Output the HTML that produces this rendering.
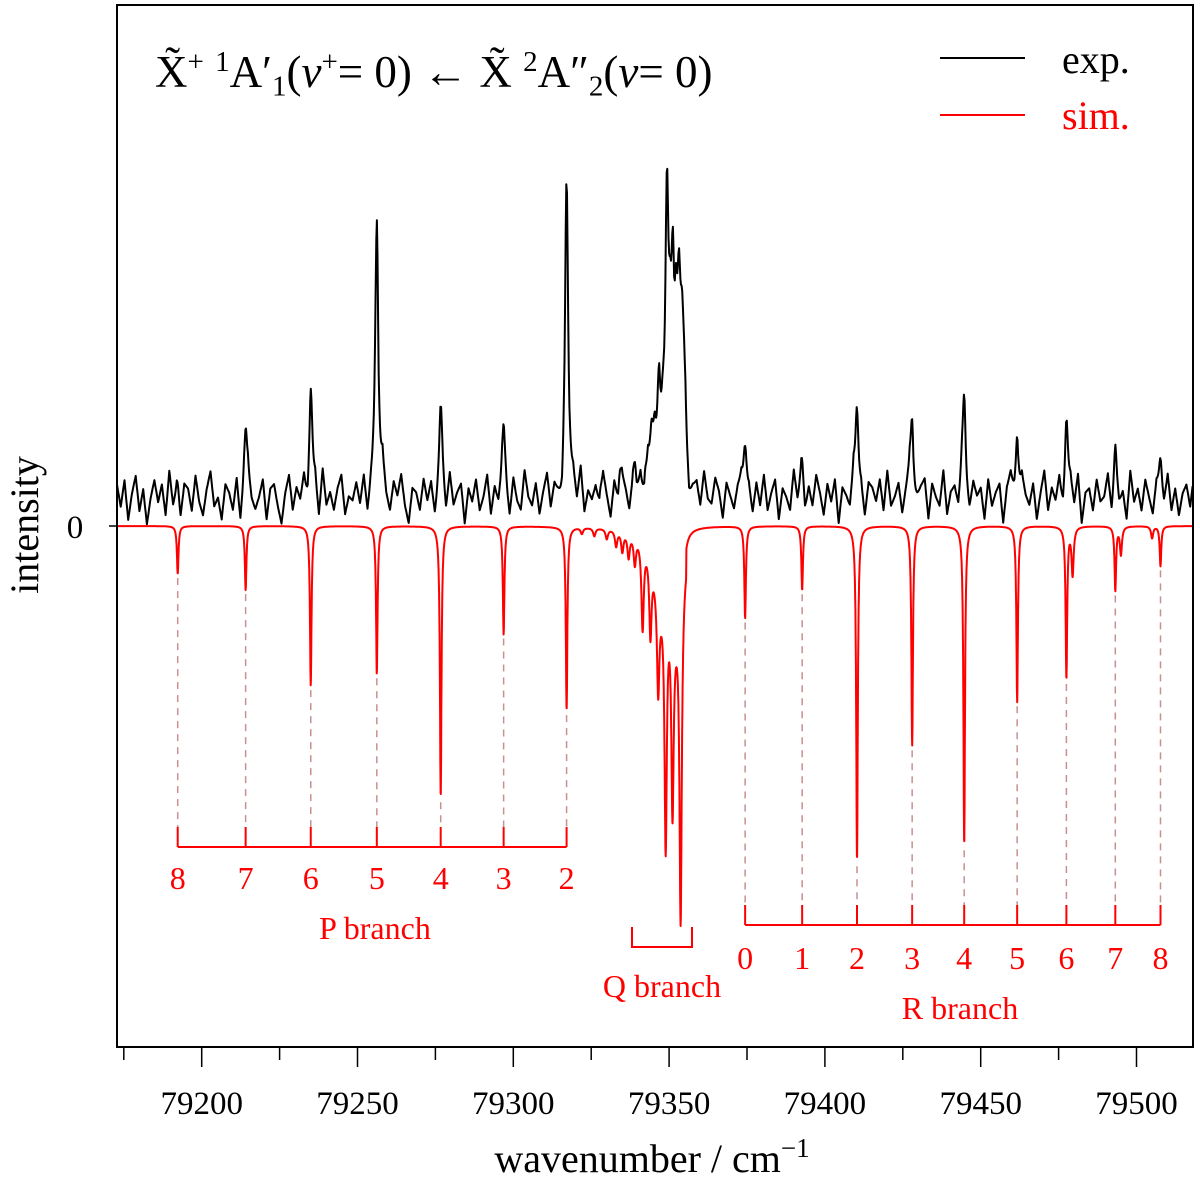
<!DOCTYPE html>
<html><head><meta charset="utf-8">
<style>
html,body{margin:0;padding:0;background:#fff;}
#wrap{position:relative;width:1200px;height:1189px;overflow:hidden;font-family:"Liberation Serif",serif;}
#title{position:absolute;left:155px;top:50px;font-size:45px;white-space:nowrap;color:#000;line-height:1;}
#title sup{font-size:29px;vertical-align:0.55em;line-height:0}
#title sub{font-size:29px;vertical-align:-0.3em;line-height:0}
</style></head>
<body>
<div id="wrap">
<svg id="svg" width="1200" height="1189" viewBox="0 0 1200 1189" xmlns="http://www.w3.org/2000/svg"></svg>
<div id="title">X̃<sup>+</sup> <sup>1</sup>A′<sub>1</sub>(<i>v</i><sup>+</sup>= 0) ← X̃ <sup>2</sup>A″<sub>2</sub>(<i>v</i>= 0)</div>
</div>
<script>
// ---- data ----
const xTicks = [79200,79250,79300,79350,79400,79450,79500];
const xMinor = [79175,79225,79275,79325,79375,79425,79475,79525];
const pLabels = [8,7,6,5,4,3,2];
const pPos = [79192.3,79214.1,79235.0,79256.2,79276.7,79296.9,79317.1];
const pDepth = [0.12,0.16,0.40,0.37,0.68,0.27,0.46];
const rLabels = [0,1,2,3,4,5,6,7,8];
const rPos = [79374.4,79392.7,79410.3,79428.0,79444.7,79461.7,79477.5,79493.2,79507.7];
const rDepth = [0.23,0.16,0.84,0.55,0.80,0.44,0.38,0.16,0.10];
const rShoulderPos = [79479.5,79495.0,79505.0];
const rShoulderDepth = [0.12,0.07,0.03];
const qPos = [79322,79326,79330,79333,79335,79337,79339,79341.5,79344,79346.5,79348.9,79351.1,79353.7];
const qDepth = [0.015,0.02,0.025,0.04,0.05,0.06,0.07,0.22,0.2,0.25,0.64,0.5,0.84];
const qEnvPos = [79347,79352];
const qEnvDepth = [0.12,0.18];
// experimental peaks
const ePos = [79192.3,79214.1,79235.0,79256.2,79276.7,79296.9,79317.1,79327.8,79334.2,79339,79342.2,79344.4,79345.4,79346.7,79348,79349.3,79350.3,79351.2,79352.2,79353.2,79354.1,79354.8,79374.4,79392.7,79410.3,79428.0,79444.7,79461.7,79477.5,79493.2,79507.7];
const eHeight = [0.04,0.14,0.28,0.70,0.22,0.16,0.76,0.03,0.05,0.07,0.08,0.12,0.13,0.18,0.15,0.66,0.2,0.45,0.3,0.35,0.3,0.15,0.15,0.08,0.24,0.2,0.24,0.18,0.2,0.1,0.09];
const noise = [3,-2,4,-5,1,5,-3,2,-6,0,4,-1,3,-4,6,-2,1,-5,3,2,-3,5,-1,-4,2,6,-2,0,-5,3,1,-3,4,-6,2,5,-1,-3,0,4,-5,2,3,-2,-6,1,5,-3,2,-1,4,-4,0,3,-5,6,-2,1,-3,2,5,-4,0,-1,3,-2,4,-5,1,2,-3,6,-1,-4,3,0,5,-2,-6,2,1,-3,4,-1,3,-5,0,2,-4,5,-2,1,3,-6,2,-1,4,-3,0,5,-4,2,-2,3,1,-5,4,-1,-3,6,0,-2,3,-4,1,5,-3,2,-1,-5,4,0,3,-2,6,-4,1,-1,2,-3,5,0,-5,3,-2,4,1,-4,2,-1,3,-6,5,0,-2,4,-3,1,2,-5,3,-1,6,-4,0,2,-3,5,-1,-2,4,1,-5,3,0,-3,2,4,-2,1,-4,3,-2,5,-3,1,4,-5,2,0,-3,6,-1,3,-4,2,-2,5,1,-4,3,-1,4,-6,2,0,-3,5,-2,1,-5,3,2,-1,4,-3,6,-2,0,3,-4,1,5,-3,-1,2,4,-5,3,0,-2,6,-4,1,2,-3,5,-1,-4,3,0,2,-5,4,-2,1,3,-6,2,5,-1,-3,4,0,-2,3,-5,1,6,-3,2,-1,4,-4,0,3,-2,5,-6,1,2,-3,4,-1,0,5,-4,3,-2,1,-5,6,-1,2,-3,4,0,-4,3,1,-2,5,-3,2,-4,1,3,-2,5,-1,-3,4,0,-5,2,3,-1,4,-2,1,-4,5,-3,2,0,-1,3,-5,4];
const expBase = 0.07;

// ---- scales ----
const X0=117, X1=1193, Y0=5, Y1=1047, ZERO=526, PXU=400;
function xs(c){return 201.7+(c-79200)*3.116;}
function ys(v){return ZERO - v*PXU;}
const CMIN=(X0-201.7)/3.116+79200, CMAX=(X1-201.7)/3.116+79200;
const NS="http://www.w3.org/2000/svg";
const svg=document.getElementById('svg');
function mk(tag,attrs,parent){const e=document.createElementNS(NS,tag);for(const k in attrs)e.setAttribute(k,attrs[k]);(parent||svg).appendChild(e);return e;}
function lor(x,p,g){return g*g/((x-p)*(x-p)+g*g);}
function simAt(c){let v=0;
  pPos.forEach((p,i)=>v+=pDepth[i]*lor(c,p,0.3));
  rPos.forEach((p,i)=>v+=rDepth[i]*lor(c,p,0.3));
  rShoulderPos.forEach((p,i)=>v+=rShoulderDepth[i]*lor(c,p,0.4));
  qPos.forEach((p,i)=>v+=qDepth[i]*lor(c,p,0.45));
  if(c<79355.5) qEnvPos.forEach((p,i)=>v+=qEnvDepth[i]*lor(c,p,2.5));
  return v;}

let simPts=[];
for(let c=CMIN;c<=CMAX;c+=0.08){
  simPts.push(xs(c).toFixed(1)+','+ys(-simAt(c)).toFixed(1));
}
let expPts=[];
const NSTEP=1.2;
for(let c=CMIN;c<=CMAX;c+=0.2){
  let v=expBase;
  ePos.forEach((p,i)=>v+=eHeight[i]*lor(c,p,0.6));
  const fi=(c-CMIN)/NSTEP; let i0=Math.max(0,Math.min(noise.length-2,Math.floor(fi))); let f=Math.max(0,Math.min(1,fi-i0));
  v+= (noise[i0]*(1-f)+noise[i0+1]*f)/100*1.1;
  expPts.push(xs(c).toFixed(1)+','+ys(v).toFixed(1));
}
const expLine=mk('polyline',{points:expPts.join(' '),fill:'none',stroke:'#000','stroke-width':2,'stroke-linejoin':'round'});


const simLine=mk('polyline',{points:simPts.join(' '),fill:'none',stroke:'#f00','stroke-width':2,'stroke-linejoin':'round'});



const frame=mk('rect',{x:X0,y:Y0,width:X1-X0,height:Y1-Y0,fill:'none',stroke:'#000','stroke-width':2});


xTicks.forEach(t=>{
  const l=mk('line',{x1:xs(t),x2:xs(t),y1:Y1,y2:Y1+20,stroke:'#000','stroke-width':1.5});
  
  
  const tx=mk('text',{x:xs(t),y:1114,'text-anchor':'middle','font-size':33,'font-family':'Liberation Serif, serif'});
  tx.textContent=t;
  
  
});
xMinor.forEach(t=>{
  if(xs(t)<X0-1||xs(t)>X1+1)return;
  const l=mk('line',{x1:xs(t),x2:xs(t),y1:Y1,y2:Y1+13,stroke:'#000','stroke-width':1.5});
  
  
});
const yz=mk('text',{x:75,y:538,'text-anchor':'middle','font-size':33,'font-family':'Liberation Serif, serif'});
yz.textContent='0';


const ytick=mk('line',{x1:X0-8,x2:X0,y1:ZERO,y2:ZERO,stroke:'#000','stroke-width':1.5});


const yt=mk('text',{x:0,y:0,'text-anchor':'middle','font-size':40,'font-family':'Liberation Serif, serif',transform:'translate(38,525) rotate(-90)'});
yt.textContent='intensity';


const xt=mk('text',{x:652,y:1172,'text-anchor':'middle','font-size':40,'font-family':'Liberation Serif, serif'});
xt.innerHTML='wavenumber / cm<tspan baseline-shift="super" font-size="27">−1</tspan>';



const le1=mk('line',{x1:940,x2:1025,y1:58,y2:58,stroke:'#000','stroke-width':2});


const lt1=mk('text',{x:1062,y:73,'font-size':40,'font-family':'Liberation Serif, serif'});
lt1.textContent='exp.';


const le2=mk('line',{x1:940,x2:1025,y1:115,y2:115,stroke:'#f00','stroke-width':2});


const lt2=mk('text',{x:1062,y:129,'font-size':40,fill:'#f00','font-family':'Liberation Serif, serif'});
lt2.textContent='sim.';



function branch(pos,labels,yb,labelY,name){
  const br=mk('line',{x1:xs(pos[0]),x2:xs(pos[pos.length-1]),y1:yb,y2:yb,stroke:'#f00','stroke-width':2});
  
  
  pos.forEach((p,i)=>{
    const x=xs(p);
    const d=mk('line',{x1:x,x2:x,y1:ys(-simAt(p))+4,y2:yb-20,stroke:'#c89090','stroke-width':1.5,'stroke-dasharray':'7,6'});
    
    
    const t=mk('line',{x1:x,x2:x,y1:yb-20,y2:yb,stroke:'#f00','stroke-width':2});
    
    
    const tx=mk('text',{x:x,y:labelY,'text-anchor':'middle','font-size':32,fill:'#f00','font-family':'Liberation Serif, serif'});
    tx.textContent=labels[i];
    
    
  });
}
branch(pPos,pLabels,847,889,'p-branch');
branch(rPos,rLabels,925,969,'r-branch');
const pt=mk('text',{x:375,y:939,'text-anchor':'middle','font-size':32,fill:'#f00','font-family':'Liberation Serif, serif'});
pt.textContent='P branch';


const rt=mk('text',{x:960,y:1019,'text-anchor':'middle','font-size':32,fill:'#f00','font-family':'Liberation Serif, serif'});
rt.textContent='R branch';


const qb=mk('polyline',{points:'632,927 632,947 692,947 692,927',fill:'none',stroke:'#f00','stroke-width':2});


const qt=mk('text',{x:662,y:997,'text-anchor':'middle','font-size':32,fill:'#f00','font-family':'Liberation Serif, serif'});
qt.textContent='Q branch';


</script>
</body></html>
